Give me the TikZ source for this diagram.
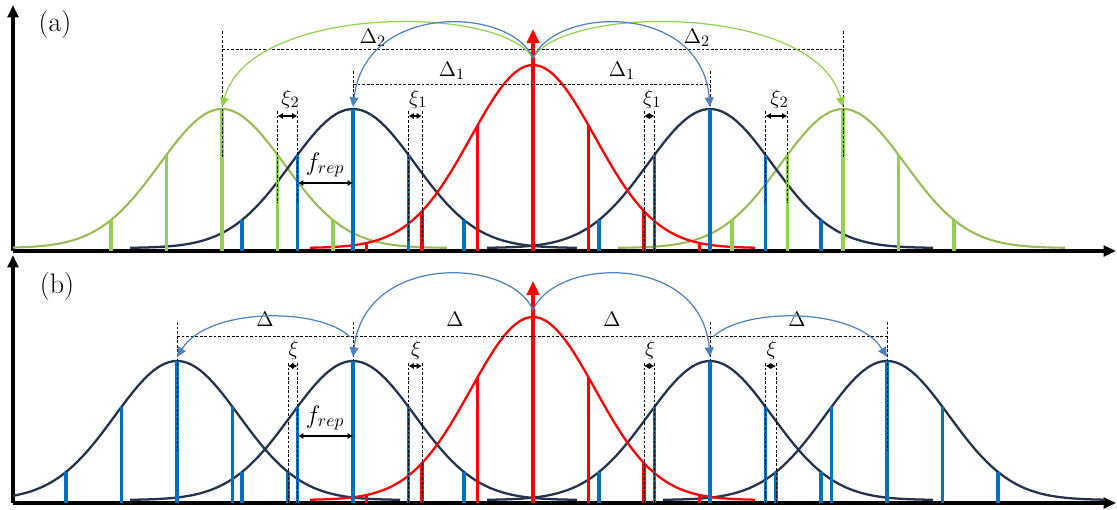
\documentclass[tikz,border=0pt]{standalone}
\usetikzlibrary{arrows.meta}

\definecolor{combblue}{RGB}{0,112,192}
\definecolor{envnavy}{RGB}{36,50,76}
\definecolor{envgreen}{RGB}{155,187,89}
\definecolor{combgreen}{RGB}{146,208,80}
\definecolor{arcblue}{RGB}{79,129,189}
\definecolor{arcgreen}{RGB}{146,208,80}

\begin{document}
\begin{tikzpicture}[x=0.02cm,y=0.02cm,
    axis/.style={line width=2.2pt,-{Triangle[length=7pt,width=6pt]}},
    envblue/.style={envnavy,line width=1.3pt,samples=90},
    envgrn/.style={envgreen,line width=1.2pt,samples=90},
    envred/.style={red,line width=1.3pt,samples=90},
    tooth/.style={line width=2pt},
    guide/.style={black,line width=0.5pt,dash pattern=on 1.6pt off 1pt},
    hop/.style={line width=0.7pt,-{Triangle[length=5.5pt,width=5pt]}},
    gap/.style={line width=1pt,{Latex[length=3pt,width=3.5pt]}-{Latex[length=3pt,width=3.5pt]}},
    lab/.style={font=\fontsize{12.5}{14}\selectfont,inner sep=1pt},
    tag/.style={font=\fontsize{16}{18}\selectfont,inner sep=0pt}]
  \useasboundingbox (0,0) rectangle (1117,510);

  % ---------------- (a): two different offsets
  \begin{scope}[shift={(0,259)}]
    \node[tag] (taga) at (55,227) {(a)};
    \coordinate (oa) at (13,0);
    \draw[axis] (oa) -- (13,246);
    \draw[axis] (oa) -- (1116,0);

    \draw[envgrn,domain=13:447] plot (\x,{3+139*exp(-0.5*((\x-222)/62)^2)});
    \draw[envgrn,domain=618:1065] plot (\x,{3+139*exp(-0.5*((\x-843)/62)^2)});
    \foreach \c/\a/\b in {353/130/577,710/487/933}
      \draw[envblue,domain=\a:\b] plot (\x,{3+139*exp(-0.5*((\x-\c)/62)^2)});
    \draw[envred,domain=310:755] plot (\x,{3+183*exp(-0.5*((\x-533)/62)^2)});

    \foreach \c in {222,843}
      \foreach \k in {-2,...,2}
        \draw[tooth,combgreen] ({\c+55.5*\k},0) -- ++(0,{3+139*exp(-0.5*(55.5*\k/62)^2)});
    \foreach \c in {353,710}
      \foreach \k in {-2,...,2}
        \draw[tooth,combblue] ({\c+55.5*\k},0) -- ++(0,{3+139*exp(-0.5*(55.5*\k/62)^2)});
    \foreach \k in {-3,-2,-1,1,2,3}
      \draw[tooth,red] ({533+55.5*\k},0) -- ++(0,{3+183*exp(-0.5*(55.5*\k/62)^2)});
    \draw[tooth,red,-{Triangle[length=8pt,width=7pt]}] (533,0) -- (533,222);

    % offsets
    \draw[guide] (222,220) -- (222,93);
    \draw[guide] (843,220) -- (843,93);
    \draw[guide] (353,180) -- (353,142);
    \draw[guide] (710,180) -- (710,142);
    \draw[guide] (222,202) -- (843,202);
    \draw[guide] (353,167) -- (710,167);
    \node[lab] (d2l) at (373,213) {$\Delta_2$};
    \node[lab] (d2r) at (697,213) {$\Delta_2$};
    \node[lab] (d1l) at (452,180) {$\Delta_1$};
    \node[lab] (d1r) at (622,180) {$\Delta_1$};

    % xi markers
    \foreach \xa/\xb/\lo/\i in {277.5/297.5/48/2,765.5/787.5/48/2,408.5/422/10/1,644/654.5/0/1} {
      \draw[guide] (\xa,140) -- (\xa,\lo);
      \draw[guide] (\xb,140) -- (\xb,\lo);
      \draw[gap] (\xa,135) -- (\xb,135);
      \node[lab,anchor=south] at ({(\xa+\xb)/2+3},140) {$\xi_{\i}$};
    }
    \draw[gap,line width=1.3pt] (298,68) -- (353,68);
    \node[lab,font=\fontsize{14}{16}\selectfont] (fa) at (325,86) {$f_{rep}$};

    % shifts
    \coordinate (sa) at (533,193);
    \coordinate (pb1) at (353,144);
    \coordinate (pb2) at (710,144);
    \coordinate (pg1) at (222,144);
    \coordinate (pg2) at (843,144);
    \draw[hop,arcgreen] (sa) .. controls (500,247) and (250,247) .. (pg1);
    \draw[hop,arcgreen] (sa) .. controls (566,247) and (816,247) .. (pg2);
    \draw[hop,arcblue] (sa) .. controls (510,245) and (365,249) .. (pb1);
    \draw[hop,arcblue] (sa) .. controls (556,245) and (701,249) .. (pb2);
  \end{scope}

  % ---------------- (b): equal offsets
  \begin{scope}[shift={(0,7)}]
    \node[tag] (tagb) at (57,217) {(b)};
    \coordinate (ob) at (13,0);
    \draw[axis] (ob) -- (13,248);
    \draw[axis] (ob) -- (1116,0);

    \foreach \c/\a/\b in {177/13/400,353/130/577,710/487/933,887/663/1105}
      \draw[envblue,domain=\a:\b] plot (\x,{3+139*exp(-0.5*((\x-\c)/62)^2)});
    \draw[envred,domain=310:755] plot (\x,{3+183*exp(-0.5*((\x-533)/62)^2)});

    \foreach \c in {177,353,710,887}
      \foreach \k in {-2,...,2}
        \draw[tooth,combblue] ({\c+55.5*\k},0) -- ++(0,{3+139*exp(-0.5*(55.5*\k/62)^2)});
    \foreach \k in {-3,-2,-1,1,2,3}
      \draw[tooth,red] ({533+55.5*\k},0) -- ++(0,{3+183*exp(-0.5*(55.5*\k/62)^2)});
    \draw[tooth,red,-{Triangle[length=8pt,width=7pt]}] (533,0) -- (533,222);

    % offsets
    \draw[guide] (177,181) -- (177,53);
    \draw[guide] (887,181) -- (887,53);
    \draw[guide] (353,181) -- (353,142);
    \draw[guide] (710,181) -- (710,142);
    \draw[guide] (177,167) -- (887,167);
    \foreach \p/\n in {265/1,455/2,612/3,797/4}
      \node[lab] (dl\n) at (\p,184) {$\Delta$};

    \foreach \xa/\xb in {288/297.5,408.5/422,644/654.5,765.5/776} {
      \draw[guide] (\xa,140) -- (\xa,0);
      \draw[guide] (\xb,140) -- (\xb,0);
      \draw[gap] (\xa,137) -- (\xb,137);
      \node[lab,anchor=south] at ({(\xa+\xb)/2+1},141) {$\xi$};
    }
    \draw[gap,line width=1.3pt] (298,67) -- (353,67);
    \node[lab,font=\fontsize{14}{16}\selectfont] (fb) at (325,85) {$f_{rep}$};

    % shifts
    \coordinate (sb) at (533,193);
    \coordinate (qa) at (353,146);
    \coordinate (qb) at (710,146);
    \coordinate (qc) at (177,146);
    \coordinate (qd) at (887,146);
    \coordinate (ra) at (350,166);
    \coordinate (rb) at (713,166);
    \draw[hop,arcblue] (sb) .. controls (510,246) and (365,250) .. (qa);
    \draw[hop,arcblue] (sb) .. controls (556,246) and (701,250) .. (qb);
    \draw[hop,arcblue] (ra) .. controls (320,196) and (208,196) .. (qc);
    \draw[hop,arcblue] (rb) .. controls (743,196) and (856,196) .. (qd);
  \end{scope}
\end{tikzpicture}
\end{document}
